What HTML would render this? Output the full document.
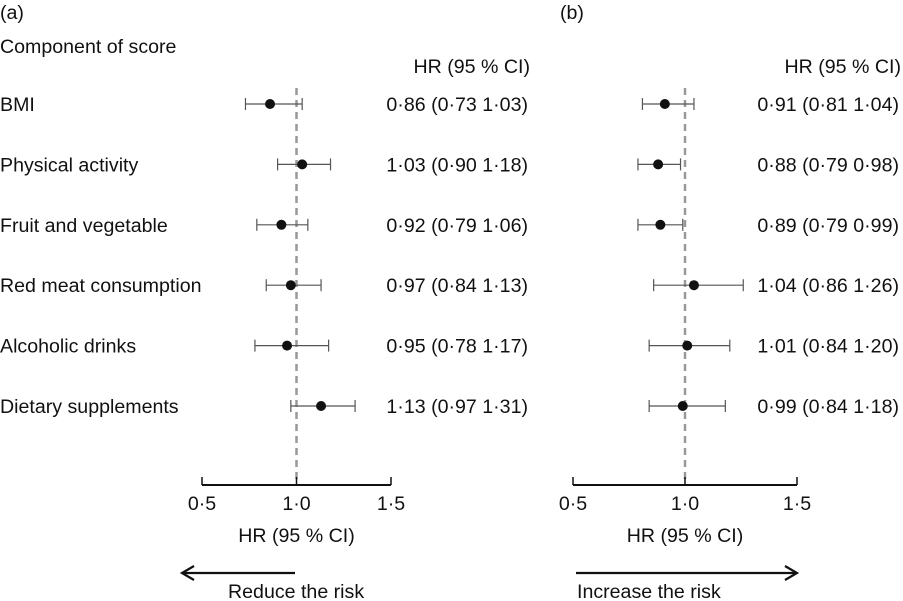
<!DOCTYPE html>
<html><head><meta charset="utf-8"><style>
body{margin:0;background:#fff;}
svg{display:block;font-family:"Liberation Sans",Arial,sans-serif;}
text{fill:#111;font-size:19.6px;}
</style></head><body>
<svg id="c" width="903" height="601"></svg>
<script>
const categories=["BMI","Physical activity","Fruit and vegetable","Red meat consumption","Alcoholic drinks","Dietary supplements"];
const hrA=[0.86,1.03,0.92,0.97,0.95,1.13];
const loA=[0.73,0.90,0.79,0.84,0.78,0.97];
const hiA=[1.03,1.18,1.06,1.13,1.17,1.31];
const hrB=[0.91,0.88,0.89,1.04,1.01,0.99];
const loB=[0.81,0.79,0.79,0.86,0.84,0.84];
const hiB=[1.04,0.98,0.99,1.26,1.20,1.18];
const ticks=[0.5,1.0,1.5];
const tickLabels=["0·5","1·0","1·5"];
const NS="http://www.w3.org/2000/svg";
const svg=document.getElementById('c');
function el(tag,attrs,txt){const e=document.createElementNS(NS,tag);for(const k in attrs)e.setAttribute(k,attrs[k]);if(txt!==undefined)e.textContent=txt;svg.appendChild(e);return e;}
const rowY=i=>104+i*60.4;
const fmt=v=>v.toFixed(2).replace('.','·');
function panel(lx,x0,x1,hr,lo,hi,valEnd,tag){
  const sx=v=>x0+(v-0.5)/1.0*(x1-x0);
  let e=el('text',{x:lx,y:19},tag);
  
  
  e=el('line',{x1:sx(1),x2:sx(1),y1:88,y2:485,stroke:'#999','stroke-width':2.5,'stroke-dasharray':'7,5'});
  
  
  e=el('line',{x1:x0,x2:x1,y1:485,y2:485,stroke:'#111','stroke-width':2});
  
  
  ticks.forEach((t,i)=>{
    let k=el('line',{x1:sx(t),x2:sx(t),y1:477,y2:485,stroke:'#111','stroke-width':1.5});
    
    
    k=el('text',{x:sx(t),y:510,'text-anchor':'middle'},tickLabels[i]);
    
    
  });
  e=el('text',{x:sx(1),y:542,'text-anchor':'middle'},'HR (95 % CI)');
  
  
  e=el('text',{x:valEnd,y:73,'text-anchor':'end'},'HR (95 % CI)');
  
  
  hr.forEach((v,i)=>{
    const y=rowY(i);
    let g=el('line',{x1:sx(lo[i]),x2:sx(hi[i]),y1:y,y2:y,stroke:'#555','stroke-width':1.2});
    
    
    [lo[i],hi[i]].forEach(c=>{
      const cap=el('line',{x1:sx(c),x2:sx(c),y1:y-6,y2:y+6,stroke:'#555','stroke-width':1.2});
      
      
    });
    g=el('circle',{cx:sx(v),cy:y,r:5,fill:'#111'});
    
    
    g=el('text',{x:valEnd-2,y:y+7,'text-anchor':'end'},fmt(v)+' ('+fmt(lo[i])+' '+fmt(hi[i])+')');
    
    
  });
}
let t=el('text',{x:0,y:53},'Component of score');


categories.forEach((c,i)=>{
  const e=el('text',{x:0,y:rowY(i)+7},c);
  
  
});
panel(0,202,391,hrA,loA,hiA,530,'(a)');
panel(560,573,797,hrB,loB,hiB,901,'(b)');
function arrow(x1,x2,y,name){
  const a=el('line',{x1:x1,x2:x2,y1:y,y2:y,stroke:'#111','stroke-width':2.2});
  
  
  const d=x2>x1?-1:1;
  const h=el('polyline',{points:(x2+d*12)+','+(y-7)+' '+x2+','+y+' '+(x2+d*12)+','+(y+7),fill:'none',stroke:'#111','stroke-width':2.2});
  
  
}
arrow(295,182,573,'reduce-arrow');
arrow(576,797,573,'increase-arrow');
t=el('text',{x:228,y:598},'Reduce the risk');


t=el('text',{x:577,y:598},'Increase the risk');


</script>
</body></html>
